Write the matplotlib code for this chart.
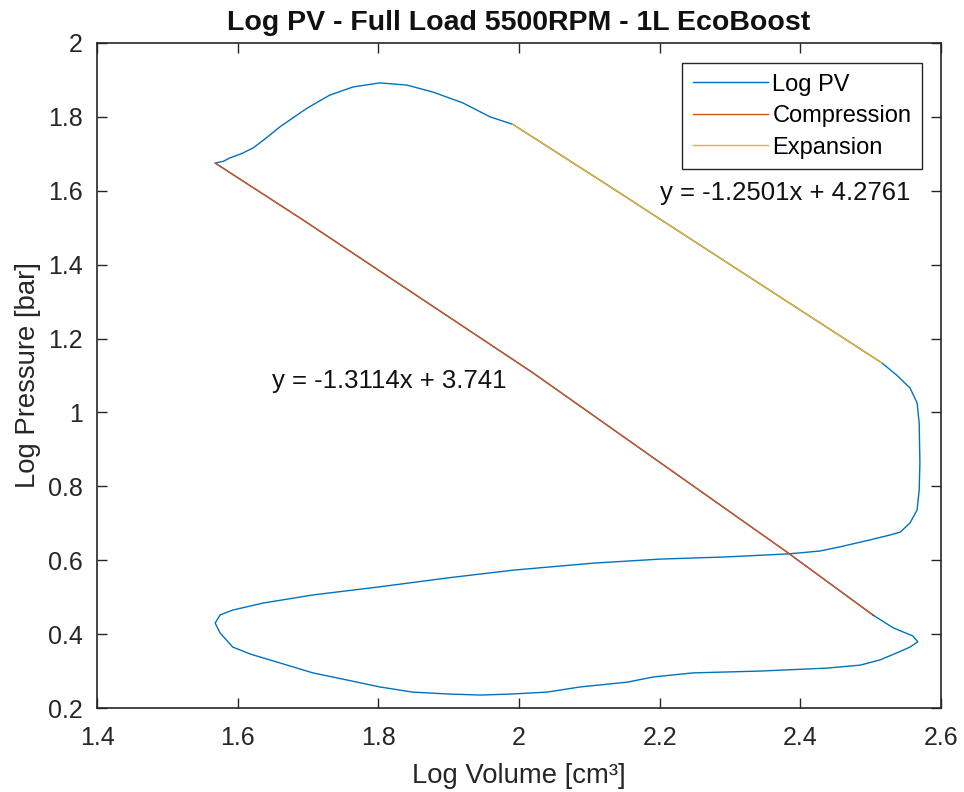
import matplotlib
matplotlib.use("Agg")
import matplotlib.pyplot as plt

plt.rcParams['font.family'] = ['Liberation Sans', 'DejaVu Sans']

# Full Log PV cycle (log volume, log pressure)
pv_x = [2.503, 2.381, 2.020, 1.689, 1.568,
        1.580, 1.589, 1.605, 1.622, 1.640, 1.660, 1.699, 1.731, 1.764, 1.802, 1.841, 1.878,
        1.920, 1.959, 1.991,
        2.115, 2.400, 2.516,
        2.537, 2.556, 2.566, 2.569, 2.570, 2.569, 2.566, 2.556, 2.542, 2.527, 2.499, 2.456,
        2.428, 2.400, 2.381, 2.296, 2.200, 2.105, 1.991, 1.898, 1.802, 1.707, 1.636, 1.593,
        1.575, 1.568, 1.575, 1.593, 1.618, 1.660, 1.707, 1.755, 1.802, 1.849, 1.898, 1.945,
        1.991, 2.040, 2.087, 2.154, 2.191, 2.247, 2.343, 2.438, 2.485, 2.513, 2.537, 2.556,
        2.567, 2.560, 2.532, 2.503]
pv_y = [0.452, 0.622, 1.107, 1.526, 1.675,
        1.680, 1.689, 1.700, 1.716, 1.742, 1.773, 1.824, 1.859, 1.881, 1.892, 1.886, 1.867,
        1.838, 1.800, 1.780,
        1.629, 1.277, 1.134,
        1.101, 1.066, 1.026, 0.971, 0.863, 0.790, 0.736, 0.701, 0.676, 0.668, 0.655, 0.636,
        0.625, 0.620, 0.617, 0.609, 0.603, 0.592, 0.573, 0.552, 0.528, 0.506, 0.484, 0.465,
        0.452, 0.430, 0.403, 0.365, 0.346, 0.322, 0.295, 0.276, 0.257, 0.243, 0.238, 0.235,
        0.238, 0.243, 0.257, 0.270, 0.284, 0.295, 0.300, 0.308, 0.316, 0.330, 0.349, 0.365,
        0.379, 0.395, 0.417, 0.452]

# Compression segment
comp_x = [1.568, 1.689, 2.020, 2.381, 2.503]
comp_y = [1.675, 1.526, 1.107, 0.622, 0.452]

# Expansion segment
exp_x = [1.991, 2.115, 2.400, 2.516]
exp_y = [1.780, 1.629, 1.277, 1.134]

series_labels = ["Log PV", "Compression", "Expansion"]
comp_eq = "y = -1.3114x + 3.741"
exp_eq = "y = -1.2501x + 4.2761"

x_ticks = [1.4, 1.6, 1.8, 2.0, 2.2, 2.4, 2.6]
x_ticklabels = ["1.4", "1.6", "1.8", "2", "2.2", "2.4", "2.6"]
y_ticks = [0.2, 0.4, 0.6, 0.8, 1.0, 1.2, 1.4, 1.6, 1.8, 2.0]
y_ticklabels = ["0.2", "0.4", "0.6", "0.8", "1", "1.2", "1.4", "1.6", "1.8", "2"]

c_blue = "#0072BD"
c_red = "#D95319"
c_yel = "#EDB120"
c_ax = "#262626"

fig = plt.figure(figsize=(9.64, 7.92), dpi=100)
ax = fig.add_axes([97/964, 1 - 708/792, (941-97)/964, (708-43)/792])

ax.plot(pv_x, pv_y, color=c_blue, lw=1.0, label=series_labels[0])
ax.plot(comp_x, comp_y, color=c_red, lw=1.0, label=series_labels[1])
ax.plot(exp_x, exp_y, color=c_yel, lw=1.0, label=series_labels[2])

ax.set_xlim(1.4, 2.6)
ax.set_ylim(0.2, 2.0)
ax.set_xticks(x_ticks)
ax.set_xticklabels(x_ticklabels)
ax.set_yticks(y_ticks)
ax.set_yticklabels(y_ticklabels)

ax.tick_params(direction='in', length=7, width=1.0, colors=c_ax, labelsize=18,
               top=True, right=True)
ax.tick_params(axis='x', pad=13)
ax.tick_params(axis='y', pad=10)
for s in ax.spines.values():
    s.set_color(c_ax)
    s.set_linewidth(1.2)

ax.text(1.649, 1.085, comp_eq, fontsize=18.5, color='#111111', va='center', ha='left')
ax.text(2.200, 1.594, exp_eq, fontsize=18.5, color='#111111', va='center', ha='left')

ax.set_xlabel("Log Volume [cm³]", fontsize=19.8, color=c_ax, labelpad=9)
ax.set_ylabel("Log Pressure [bar]", fontsize=19.8, color=c_ax, labelpad=5)
ax.set_title("Log PV - Full Load 5500RPM - 1L EcoBoost", fontsize=20.5,
             fontweight='bold', color='#111111', pad=9)

leg = ax.legend(loc='upper right', bbox_to_anchor=((922-97)/844, (708-63)/665),
                borderaxespad=0, fontsize=17, frameon=True, fancybox=False,
                framealpha=1, edgecolor=c_ax, handlelength=3.2, handletextpad=0.17,
                labelspacing=0.4, borderpad=0.45)
leg.get_frame().set_linewidth(1.0)

fig.savefig("out.png", dpi=100)
